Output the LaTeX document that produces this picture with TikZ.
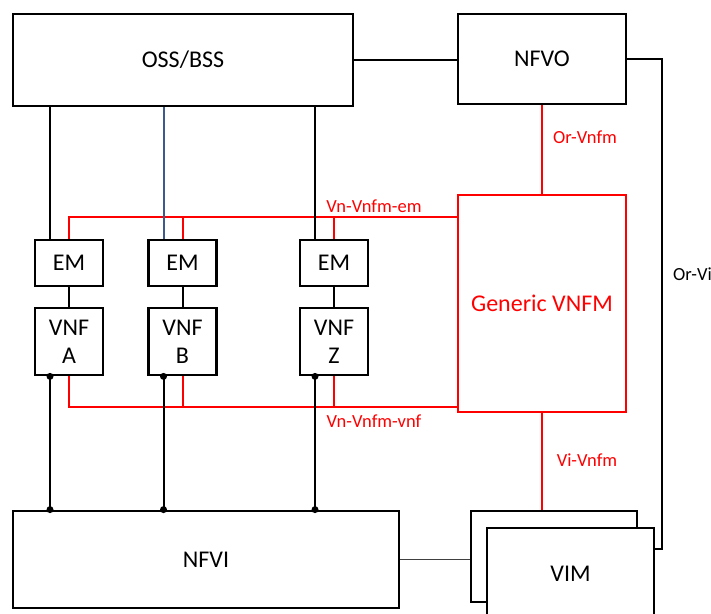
\documentclass[tikz,border=0pt]{standalone}
\usepackage{fontspec}
\setmainfont{Carlito}
\usepackage{xcolor}
\usepackage{tikz}
\definecolor{ossblue}{RGB}{60,90,140}

\begin{document}
\begin{tikzpicture}[x=1pt,y=1pt,
  box/.style={draw,line width=2.8pt,fill=white,inner sep=0pt,align=center,
    font=\fontsize{24}{28}\selectfont},
  redbox/.style={box,draw=red,text=red},
  oline/.style={line width=2pt},
  vline/.style={line width=2pt,red},
  tag/.style={font=\fontsize{18.5}{20}\selectfont,inner sep=0pt},
  dot/.style={circle,fill,inner sep=0pt,minimum size=7pt}]
\clip (0,0) rectangle (711,-613);
\useasboundingbox (0,0) rectangle (711,-613);
% management blocks
\node[box,minimum width=340pt,minimum height=92pt] (oss) at (183,-60) {OSS/BSS};
\node[box,minimum width=168pt,minimum height=90pt] (nfvo) at (542,-59) {NFVO};
\node[redbox,minimum width=168pt,minimum height=217pt] (vnfm) at (542,-303.5) {Generic VNFM};
\foreach \n/\x in {A/69,B/182.5,Z/334} {
  \node[box,minimum width=68pt,minimum height=46pt] (em\n) at (\x,-263) {EM};
  \node[box,minimum width=68pt,minimum height=67pt] (vnf\n) at (\x,-341.5) {VNF\\\n};
}
% infrastructure
\node[box,minimum width=386pt,minimum height=97pt] (nfvi) at (206,-559.5) {NFVI};
\node[box,minimum width=166pt,minimum height=91pt] (vimb) at (554,-556.5) {};
\node[box,minimum width=167pt,minimum height=92pt] (vim) at (570.5,-574) {VIM};
% reference points
\draw[oline] (oss.east) -- (oss.east -| nfvo.west);
\draw[vline] (nfvo.south) -- (vnfm.north);
\draw[vline] (vnfm.south) -- (vnfm.south |- vimb.north);
\coordinate (orvi) at (662,-549);
\draw[oline] (nfvo.east) -| (orvi) -- (orvi -| vim.east);
\draw[line width=1pt,black!75] (nfvi.east) -- (nfvi.east -| vimb.west);
\draw[vline] (emA.north) |- ([yshift=22pt]emA.north -| vnfm.west);
\draw[vline] (vnfA.south) |- ([yshift=-31pt]vnfA.south -| vnfm.west);
\foreach \n/\c in {A/black,B/ossblue,Z/black} {
  \draw[oline] (em\n.south) -- (vnf\n.north);
  \draw[vline] (em\n.north) -- ++(0,22);
  \draw[vline] (vnf\n.south) -- ++(0,-31);
  \draw[oline,\c] ([xshift=-19pt]em\n.north) -- ([xshift=-19pt]em\n.north |- oss.south);
  \coordinate (top\n) at ([xshift=-19pt]vnf\n.south);
  \coordinate (bot\n) at (top\n |- nfvi.north);
  \draw[oline] (top\n) -- (bot\n);
  \node[dot] (dt\n) at (top\n) {};
  \node[dot] (db\n) at (bot\n) {};
}
% labels
\node[tag,text=red] (lem) at (374,-206) {Vn-Vnfm-em};
\node[tag,text=red] (lvnf) at (374,-421) {Vn-Vnfm-vnf};
\node[tag,text=red] (lorvnfm) at (585,-137) {Or-Vnfm};
\node[tag,text=red] (lvivnfm) at (587,-460) {Vi-Vnfm};
\node[tag,anchor=west] (lorvi) at (673,-274) {Or-Vi};
\end{tikzpicture}
\end{document}
